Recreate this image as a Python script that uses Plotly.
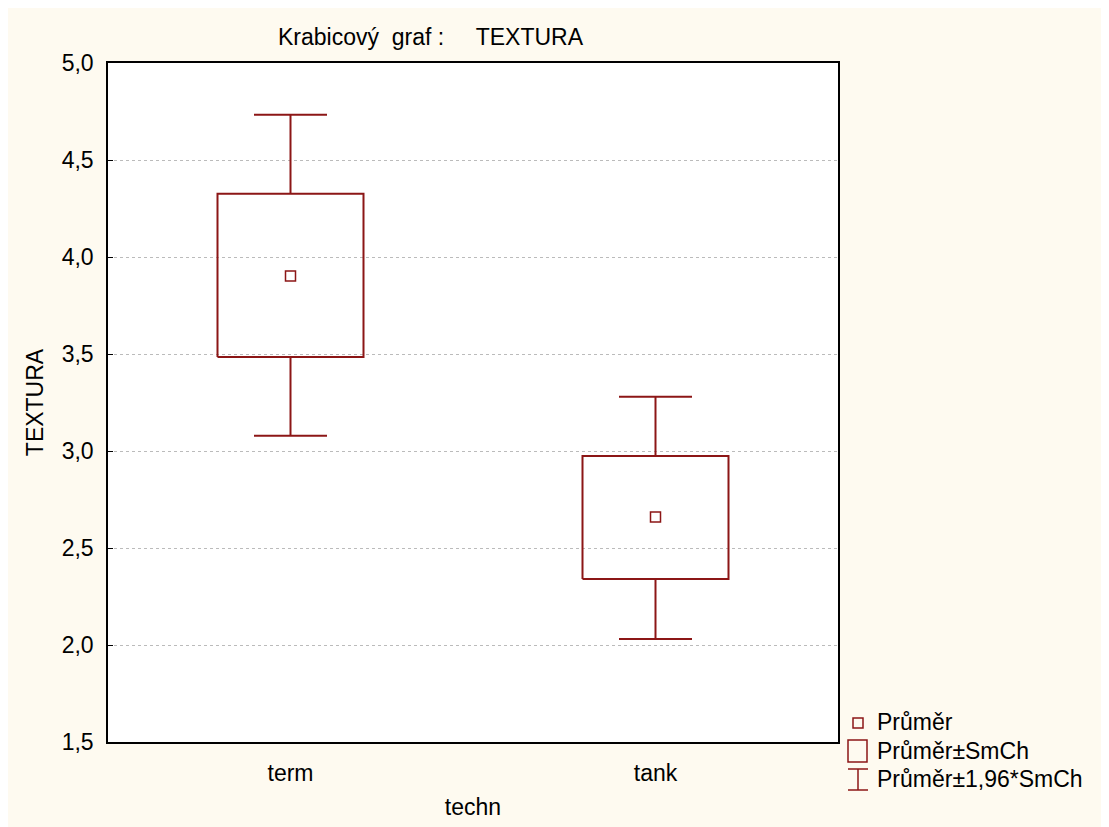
import plotly.graph_objects as go

categories = ["term", "tank"]
means = [3.902, 2.660]
se_low = [3.485, 2.340]
se_high = [4.326, 2.974]
ci_low = [3.078, 2.031]
ci_high = [4.733, 3.280]
y_ticks = [1.5, 2.0, 2.5, 3.0, 3.5, 4.0, 4.5, 5.0]

RED = "#8C1616"
FONT = "Liberation Sans, Arial, sans-serif"
FS = 23

W, H = 1109, 827
OFF = 8  # page offset of the figure inside the screenshot
L, R, T, B = 108 - OFF, 838 - OFF, 63 - OFF, 742 - OFF

def px(x):
    return (x - OFF - L) / (R - L)

def py(y):
    return (B - (y - OFF)) / (B - T)

fig = go.Figure()

bw = 0.2
cw = 0.1
for i, cat in enumerate(categories):
    fig.add_trace(go.Scatter(
        x=[i - bw, i + bw, i + bw, i - bw, i - bw],
        y=[se_low[i], se_low[i], se_high[i], se_high[i], se_low[i]],
        mode="lines", line=dict(color=RED, width=2), showlegend=False,
        hoverinfo="skip"))
    fig.add_trace(go.Scatter(
        x=[i, i, None, i - cw, i + cw, None, i, i, None, i - cw, i + cw],
        y=[se_high[i], ci_high[i], None, ci_high[i], ci_high[i], None,
           se_low[i], ci_low[i], None, ci_low[i], ci_low[i]],
        mode="lines", line=dict(color=RED, width=2), showlegend=False,
        hoverinfo="skip"))

fig.add_trace(go.Scatter(
    x=list(range(len(categories))), y=means, mode="markers",
    marker=dict(symbol="square-open", size=10, color=RED, line=dict(width=1.5, color=RED)),
    showlegend=False))

fig.update_xaxes(
    range=[-0.5, 1.5], tickmode="array", tickvals=list(range(len(categories))),
    ticktext=categories, showgrid=False, zeroline=False,
    showline=True, linecolor="black", linewidth=1.5, mirror=True,
    ticks="", tickfont=dict(family=FONT, size=FS, color="black"),
    ticklabelstandoff=10,
    title=dict(text="techn", font=dict(family=FONT, size=FS, color="black"), standoff=14))

fig.update_yaxes(
    range=[1.5, 5.0], tickmode="array", tickvals=y_ticks, tickformat=".1f",
    showgrid=True, gridcolor="#BBBBBB", griddash="dot", gridwidth=1,
    zeroline=False, showline=True, linecolor="black", linewidth=1.5, mirror=True,
    ticks="inside", ticklen=5, tickcolor="black",
    tickfont=dict(family=FONT, size=FS, color="black"),
    ticklabelstandoff=8,
    title=dict(text="TEXTURA", font=dict(family=FONT, size=FS, color="black"), standoff=12))

fig.add_annotation(
    x=px(276), y=py(37), xref="paper", yref="paper", xanchor="left", yanchor="middle",
    text="Krabicový\u00a0 graf :\u00a0\u00a0\u00a0\u00a0 TEXTURA", showarrow=False,
    font=dict(family=FONT, size=FS, color="black"))

shapes = []
shapes.append(dict(type="rect", xref="paper", yref="paper",
                   x0=px(853), x1=px(863), y0=py(728), y1=py(718),
                   line=dict(color=RED, width=1.5)))
shapes.append(dict(type="rect", xref="paper", yref="paper",
                   x0=px(848), x1=px(867), y0=py(762), y1=py(740),
                   line=dict(color=RED, width=1.5)))
shapes.append(dict(type="line", xref="paper", yref="paper",
                   x0=px(858), x1=px(858), y0=py(769), y1=py(790),
                   line=dict(color=RED, width=1.5)))
shapes.append(dict(type="line", xref="paper", yref="paper",
                   x0=px(848), x1=px(868), y0=py(769), y1=py(769),
                   line=dict(color=RED, width=1.5)))
shapes.append(dict(type="line", xref="paper", yref="paper",
                   x0=px(848), x1=px(868), y0=py(790), y1=py(790),
                   line=dict(color=RED, width=1.5)))
fig.update_layout(shapes=shapes)

legend_labels = ["Průměr", "Průměr±SmCh", "Průměr±1,96*SmCh"]
legend_y = [722, 751, 779]
for lab, yy in zip(legend_labels, legend_y):
    fig.add_annotation(x=px(875), y=py(yy), xref="paper", yref="paper",
                       xanchor="left", yanchor="middle", text=lab, showarrow=False,
                       font=dict(family=FONT, size=FS, color="black"))

fig.update_layout(
    width=W, height=H,
    margin=dict(l=L, r=W - R, t=T, b=H - B, autoexpand=False),
    paper_bgcolor="#FEFAF0", plot_bgcolor="white",
    separators=", ", showlegend=False,
    font=dict(family=FONT, size=FS, color="black"))

fig.write_html("out.html")
